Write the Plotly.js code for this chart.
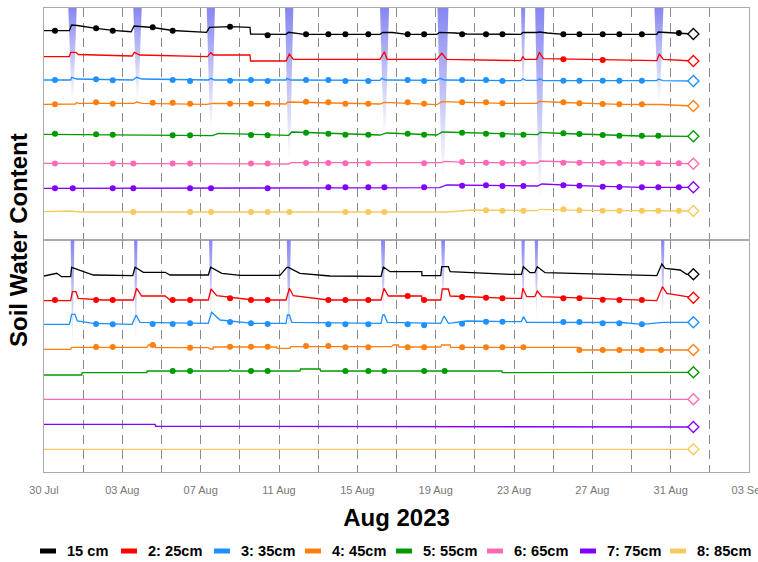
<!DOCTYPE html>
<html>
<head>
<meta charset="utf-8">
<script src="https://cdn.plot.ly/plotly-3.0.1.min.js"></script>
<style>html,body{margin:0;padding:0;background:#fff}#chart{width:758px;height:562px}</style>
</head>
<body>
<div id="chart"></div>
<script>
// ---- time base: values in days since 30 Jul 2023 00:00 ----
const START = Date.UTC(2023, 6, 30);
const DAY_MS = 86400000;
function toDate(d) { return new Date(START + Math.round(d * DAY_MS)).toISOString().slice(0, 19).replace('T', ' '); }

const seriesNames = ['15 cm', '2: 25cm', '3: 35cm', '4: 45cm', '5: 55cm', '6: 65cm', '7: 75cm', '8: 85cm'];
const seriesColors = ['#000000', '#ff0000', '#1e90ff', '#ff7f0e', '#009900', '#ff69b4', '#8000ff', '#f7c95e'];

const tickDays = [0, 4, 8, 12, 16, 20, 24, 28, 32, 36];
const tickLabels = ['30 Jul', '03 Aug', '07 Aug', '11 Aug', '15 Aug', '19 Aug', '23 Aug', '27 Aug', '31 Aug', '03 Sep'];
const gridDays = [2, 4, 6, 8, 10, 12, 14, 16, 18, 20, 22, 24, 26, 28, 30, 32, 34];

// ---- rain events (days, reach of the bar in panel units) ----
const rainTopStart = [1.24, 4.56, 8.31, 12.31, 17.16, 20.09, 24.36, 25.08, 31.17];
const rainTopEnd   = [1.67, 4.99, 8.73, 12.73, 17.62, 20.65, 24.57, 25.55, 31.63];
const rainTopDepth = [92, 92, 122, 152, 127, 169, 92, 192, 95];
const rainBotStart = [1.36, 4.60, 8.43, 12.40, 17.21, 20.28, 24.38, 25.06, 31.51];
const rainBotEnd   = [1.55, 4.77, 8.60, 12.60, 17.42, 20.48, 24.55, 25.23, 31.68];
const rainBotDepth = [105, 102, 78, 102, 75, 62, 78, 78, 78];

// ---- upper panel: lines ----
const a1T = [0,1.29,1.41,1.70,2.66,3.51,4.45,4.60,5.55,6.57,8.30,8.45,9.50,10.52,10.55,12.36,12.48,12.90,13.30,17.16,17.30,17.80,18.52,20.06,20.20,21.00,21.60,24.35,24.45,25.16,25.30,25.70,26.52,31.29,31.37,32.20,33.16];
const a1V = [209.3,209.3,215,214.5,211.7,209.7,208.3,214,212.5,209.5,207.7,212.7,213.3,212.7,206,205.7,207.7,207,205.7,205.7,207.7,207.5,205.7,205.7,207.7,207,206,205.7,207.7,207.5,208,207,205.7,205.7,208,207,206];
const a2T = [0,1.29,1.36,1.63,1.75,4.50,4.61,4.90,8.35,8.51,8.65,10.52,10.55,12.36,12.53,12.73,17.16,17.38,17.52,20.06,20.31,20.57,24.35,24.45,24.55,25.16,25.30,25.50,31.29,31.42,31.63,33.16];
const a2V = [183.3,183.3,187.7,187.7,185.5,184,187.7,185,183.3,187.3,185,185,179,179,186,180.7,180.7,188.3,180.7,180.7,186.7,180.7,179.3,183.3,180.7,180.7,187.7,181.3,179.3,186,180.7,179];
const a3T = [0,1.36,1.41,1.67,4.53,4.73,4.99,8.39,8.51,8.70,12.36,12.40,12.60,17.16,17.25,17.45,20.06,20.22,20.45,24.35,24.45,24.60,25.20,25.30,25.50,31.29,31.37,31.60,33.16];
const a3V = [160,160,162.7,161,160,162.7,161,160,161.7,160,160,161.7,160,159.7,161.7,160,159.7,161.7,160,159.3,161.3,159.7,159.7,161.3,159.3,159.3,161,159.3,159];
const a4T = [0,1.60,1.67,1.80,4.60,4.73,5.00,8.30,8.63,12.36,12.45,13.50,17.16,17.38,18.50,20.06,20.31,21.50,23.40,25.16,25.30,26.50,29.40,31.50,32.80,33.16];
const a4V = [135.7,136,137.3,136.7,136.7,138,136.7,135.7,136.7,136,138,137.5,136,137.7,136.5,135.3,138.3,137.7,136.7,136.7,138.7,137.5,135.7,135.5,134,134];
const a5T = [0,6.50,8.60,8.90,12.50,12.65,17.16,17.50,20.06,20.34,24.30,25.20,25.33,26.50,30.44,33.16];
const a5V = [105.7,105,104.3,106.7,104.7,108,105,107,105,108,105.3,105.3,107.7,106.5,104,103.7];
const a6T = [0,12.50,12.60,20.30,20.46,21.50,25.20,25.33,27.50,33.16];
const a6V = [76.7,76,77.3,77.3,78.7,77.7,77,79,77.5,76.3];
const a7T = [0,12.50,20.20,20.57,25.20,25.42,27.30,30.50,33.16];
const a7V = [51.7,52,52.3,55,54,56,54.3,52.7,52.7];
const a8T = [0,1.40,1.80,20.60,21.90,25.20,25.33,27.30,33.16];
const a8V = [28.3,29,28,28,30,29.3,30.7,29.7,29];

// ---- upper panel: readings (dots) ----
const a1DT = [0.56,2.66,3.51,5.55,6.57,9.50,11.42,13.38,14.52,15.39,16.56,18.57,19.41,21.35,22.57,23.41,26.52,27.34,28.53,29.38,30.53,32.42];
const a1DV = [209.3,211.7,209.3,212.7,209.3,213.3,204.7,205.7,205.7,205.7,205.7,205.7,205.7,205.7,205.7,205.7,205.7,205.7,205.7,205.7,205.7,207];
const a2DT = [26.52,28.53];
const a2DV = [180.7,180];
const a3DT = [0.56,2.66,3.51,6.57,7.46,9.50,10.57,11.42,13.38,14.52,15.39,16.56,18.57,19.41,21.35,22.57,23.41,26.52,27.34,28.53,29.38,30.53];
const a3DV = [160,160.7,159.7,160,159,159.3,160,159,160,160,159,159,160,159,160,160,159,159.3,159.3,159.3,159.3,159.3];
const a4DT = [0.56,2.66,3.51,5.55,6.57,7.46,9.50,10.57,11.42,13.38,14.52,15.39,16.56,18.57,19.41,21.35,22.57,23.41,26.52,27.34,28.53,29.38,30.53];
const a4DV = [135.7,137.7,136.3,137.3,137.3,136.3,136.3,136.3,136.3,138.3,137.7,136.3,136.3,137.7,136.3,137.7,137.7,136.7,137.7,136.7,136,135.7,135.7];
const a5DT = [0.56,2.66,3.51,6.57,7.46,10.57,11.42,13.38,14.52,15.39,16.56,18.57,19.41,21.35,22.57,23.41,24.48,26.52,27.34,28.53,29.38,30.53,31.37];
const a5DV = [106.3,105.7,105.3,104.7,104.7,105,104.7,107.3,106.3,105.3,105.3,106.3,105.3,107.3,106.3,105.3,105.3,106.7,106,105,104.3,104.3,104.3];
const a6DT = [0.56,3.51,4.56,6.57,7.46,10.57,11.42,13.38,14.52,15.39,16.56,19.41,21.35,22.57,23.41,24.48,26.52,27.34,28.53,29.38,30.53,31.37,32.42];
const a6DV = [76.5,76.5,76.5,76.5,76.5,76.5,76.5,77,77,76.7,76.7,76.7,78,77.3,77,77,77.3,77.3,77.3,77,77,76.7,76.7];
const a7DT = [0.56,1.47,3.51,4.56,7.46,8.53,11.42,14.52,15.39,16.56,17.38,19.41,21.35,22.57,23.41,24.48,26.52,27.34,28.53,29.38,30.53,31.37,32.42];
const a7DV = [51.7,51.7,51.7,51.7,51.7,51.7,51.7,52.7,52.7,52.7,52.7,52.7,54.3,54.7,54,54,54.7,54.3,53.3,53,52.7,52.7,52.7];
const a8DT = [4.56,7.46,8.53,10.57,11.42,12.53,15.39,16.56,17.38,22.57,23.41,24.48,26.52,27.34,28.53,29.38,30.53,31.37,32.42];
const a8DV = [28,28,28,28,28,28,28,28,28,29.7,29.3,29.3,30.7,29.7,29.3,29.3,29.3,29.3,29.3];

// ---- lower panel: lines ----
const b1T = [0,0.65,0.90,1.36,1.41,1.60,2.52,4.53,4.65,4.72,5.07,6.18,6.44,8.39,8.51,9.08,10.01,12.05,12.40,12.48,13.07,14.61,17.21,17.33,17.67,19.29,19.30,20.26,20.31,20.65,20.74,23.80,24.38,24.48,24.82,25.06,25.19,25.59,31.29,31.55,31.72,32.48,32.82,33.16];
const b1V = [196,198.7,195.3,195.3,204.7,203.5,197,196.3,204.7,204,199.7,199.7,197,197,204.7,198.7,196.7,196.7,204.7,204.7,198.7,196,195.7,205,200.3,200.3,196.3,196.3,205.3,205.3,200.3,197.7,197.7,205.3,199.3,199.3,205.3,199.3,196.3,208,203.7,202,197.7,197.7];
const b2T = [0,1.36,1.45,1.63,1.75,3.00,4.56,4.73,4.99,6.18,6.44,8.39,8.53,8.82,10.69,12.36,12.53,12.73,14.52,17.21,17.36,17.58,19.29,19.30,20.26,20.34,20.65,20.74,23.80,24.38,24.45,24.65,25.06,25.19,25.42,31.29,31.58,31.80,32.82,33.16];
const b2V = [171.3,171.3,180.3,180.3,173.7,172,172,183.7,176,176,172,172,183,176.3,172,172,183.7,176.3,172,172,183.7,176,176,172,172,183,183,176,173.7,173.7,183.7,175.3,175.3,181,175.3,171.3,185.3,178.7,175.3,174.3];
const b3T = [0,1.29,1.33,1.41,1.58,1.70,2.52,4.50,4.70,4.90,8.39,8.56,8.99,10.69,12.36,12.43,12.53,12.65,17.21,17.30,17.38,17.53,20.26,20.43,20.65,21.59,24.38,24.48,24.65,29.50,30.53,31.63,33.16];
const b3V = [147.7,147.7,149.7,157.7,157.7,151,148.7,147.7,157,149.7,148.7,159.7,152,148.7,148.7,157,157,149.7,148.7,157,157,149.7,148.7,156,148.7,151,150.3,155.3,149.7,149.5,147.7,149.7,149.7];
const b4T = [0,1.36,1.41,5.25,5.33,5.67,5.70,8.39,8.48,8.63,8.65,11.88,11.90,12.56,12.60,17.75,17.84,18.09,18.12,20.26,20.31,20.74,20.76,27.34,27.36,33.16];
const b4V = [122.7,122.7,124.7,124.7,127,127,124.3,124.3,123,123,125,125,123.7,123.7,125.3,125.3,127,127,125,125,127,127,124.7,124.7,122,122];
const b5T = [0,1.93,1.95,5.25,5.27,9.45,9.50,9.60,13.07,13.10,14.10,14.12,23.38,23.40,33.16];
const b5V = [97,97,99.3,99.3,101,101,102.3,101,101,103,103,101,101,99.3,99.7];
const b6T = [0,33.16];
const b6V = [72.7,72.7];
const b7T = [0,5.67,5.70,33.16];
const b7V = [47.7,47.7,45.7,45];
const b8T = [0,33.16];
const b8V = [22.7,22.7];

// ---- lower panel: readings (dots) ----
const b1DT = [], b1DV = [];
const b2DT = [0.56,2.66,3.51,6.57,7.46,9.50,10.57,11.42,14.52,15.39,16.56,18.57,19.41,21.35,22.57,23.41,26.52,27.34,28.53,29.38,30.53];
const b2DV = [172,172,172,172,172,173.7,172,172,172,172,172,176,172,175,174.3,173.7,173.7,173.7,172.3,172,172];
const b3DT = [2.66,3.51,5.55,6.57,7.46,9.50,10.57,11.42,14.52,15.39,16.56,18.57,19.41,21.35,22.57,23.41,26.52,27.34,28.53,29.38,30.53];
const b3DV = [148,147.7,148,148,148.7,150,148.7,148,147.7,147.7,147.7,147.7,146.7,148.3,150.3,150.3,150,150,148.7,148.7,147.7];
const b4DT = [2.66,3.51,5.55,7.46,9.50,10.57,11.42,13.38,14.52,15.39,16.56,18.57,19.41,21.35,22.57,23.41,24.48,27.34,28.53,29.38,30.53,31.51];
const b4DV = [125,125,127,124.3,125.3,125.3,125.3,126,126,124.7,124.7,124.7,124.7,124.7,124.7,124.7,124.7,122,122,122,122,122];
const b5DT = [6.57,7.46,10.57,11.42,15.39,16.56,17.38,19.41,20.46];
const b5DV = [101,101,101,101,101,101,101,101,101];
const b6DT = [], b6DV = [];
const b7DT = [], b7DV = [];
const b8DT = [], b8DV = [];

// ---- build ----
const FONT = 'Liberation Sans, Arial, Helvetica, sans-serif';
const PANEL_TOP = 232;
const traces = [];

function addRain(starts, ends, depths, yaxis) {
  for (let i = 0; i < starts.length; i++) {
    const w = ends[i] - starts[i];
    const mid = (starts[i] + ends[i]) / 2;
    const bottom = PANEL_TOP - depths[i];
    traces.push({
      type: 'scatter', mode: 'lines', xaxis: 'x', yaxis: yaxis,
      x: [starts[i], ends[i], mid + w * 0.1, mid - w * 0.1, starts[i]].map(toDate),
      y: [PANEL_TOP, PANEL_TOP, bottom, bottom, PANEL_TOP],
      fill: 'toself', line: { width: 0, color: 'rgba(0,0,0,0)' },
      fillcolor: 'rgba(128,128,240,0.5)',
      fillgradient: { type: 'vertical', start: bottom, stop: PANEL_TOP,
        colorscale: [[0, 'rgba(132,132,240,0)'], [0.5, 'rgba(132,132,240,0.5)'], [1, 'rgba(128,128,240,0.95)']] },
      hoverinfo: 'skip', showlegend: false
    });
  }
}
addRain(rainTopStart, rainTopEnd, rainTopDepth, 'y');
addRain(rainBotStart, rainBotEnd, rainBotDepth, 'y2');

const topLines = [[a1T,a1V],[a2T,a2V],[a3T,a3V],[a4T,a4V],[a5T,a5V],[a6T,a6V],[a7T,a7V],[a8T,a8V]];
const topDots = [[a1DT,a1DV],[a2DT,a2DV],[a3DT,a3DV],[a4DT,a4DV],[a5DT,a5DV],[a6DT,a6DV],[a7DT,a7DV],[a8DT,a8DV]];
const botLines = [[b1T,b1V],[b2T,b2V],[b3T,b3V],[b4T,b4V],[b5T,b5V],[b6T,b6V],[b7T,b7V],[b8T,b8V]];
const botDots = [[b1DT,b1DV],[b2DT,b2DV],[b3DT,b3DV],[b4DT,b4DV],[b5DT,b5DV],[b6DT,b6DV],[b7DT,b7DV],[b8DT,b8DV]];

function addPanel(lines, dots, yaxis) {
  lines.forEach((s, i) => {
    traces.push({ type: 'scatter', mode: 'lines', xaxis: 'x', yaxis: yaxis, name: seriesNames[i],
      x: s[0].map(toDate), y: s[1], line: { color: seriesColors[i], width: 1.3 }, showlegend: false });
  });
  dots.forEach((s, i) => {
    if (!s[0].length) return;
    traces.push({ type: 'scatter', mode: 'markers', xaxis: 'x', yaxis: yaxis, name: seriesNames[i],
      x: s[0].map(toDate), y: s[1], marker: { color: seriesColors[i], size: 6 }, showlegend: false });
  });
  lines.forEach((s, i) => {
    const n = s[0].length - 1;
    traces.push({ type: 'scatter', mode: 'markers', xaxis: 'x', yaxis: yaxis, name: seriesNames[i],
      x: [toDate(s[0][n])], y: [s[1][n]],
      marker: { symbol: 'diamond', size: 8.5, color: '#ffffff', line: { color: seriesColors[i], width: 1.3 } },
      showlegend: false });
  });
}
addPanel(topLines, topDots, 'y');
addPanel(botLines, botDots, 'y2');

// custom legend row (layout positions in px of the 758-wide page)
const legendSymbolPx = [39, 120, 213, 304, 395, 486, 579, 669];
const PLOT_L = 44, PLOT_W = 705, PLOT_B = 472, PLOT_H = 464;
const px2paper = px => (px - PLOT_L) / PLOT_W;
const legendY = (PLOT_B - 551) / PLOT_H;
const shapes = [], annotations = [];
seriesNames.forEach((nm, i) => {
  shapes.push({ type: 'line', xref: 'paper', yref: 'paper',
    x0: px2paper(legendSymbolPx[i] + 1), x1: px2paper(legendSymbolPx[i] + 17), y0: legendY, y1: legendY,
    line: { color: seriesColors[i], width: 5 } });
  annotations.push({ xref: 'paper', yref: 'paper', x: px2paper(legendSymbolPx[i] + 26), y: legendY,
    xanchor: 'left', yanchor: 'middle', showarrow: false, text: '<b>' + nm + '</b>',
    font: { family: FONT, size: 14.6, color: '#000' } });
});
annotations.push({ xref: 'paper', yref: 'paper', x: px2paper(18), y: 0.5, xanchor: 'center', yanchor: 'middle',
  textangle: -90, showarrow: false, text: '<b>Soil Water Content</b>', font: { family: FONT, size: 24, color: '#000' } });

const gridStyle = { showgrid: true, gridcolor: '#8a8a8a', gridwidth: 1, griddash: '9px,6px' };
const layout = {
  width: 758, height: 562,
  margin: { l: PLOT_L, r: 9, t: 8, b: 90 },
  paper_bgcolor: '#ffffff', plot_bgcolor: '#ffffff',
  showlegend: false,
  font: { family: FONT },
  xaxis: {
    type: 'date', range: [toDate(0), toDate(36)], anchor: 'y2',
    tickmode: 'array', tickvals: tickDays.map(toDate), ticktext: tickLabels,
    tickfont: { family: FONT, size: 11, color: '#777777' }, ticks: '', ticklabelstandoff: 8,
    ticklabeloverflow: 'allow',
    showgrid: false,
    minor: Object.assign({ tickmode: 'array', tickvals: gridDays.map(toDate), ticks: '' }, gridStyle),
    showline: true, linecolor: '#aaaaaa', linewidth: 1, mirror: 'all', zeroline: false, fixedrange: true,
    title: { text: '<b>Aug 2023</b>', font: { family: FONT, size: 24, color: '#000' }, standoff: 13 }
  },
  yaxis: { domain: [0.5, 1], range: [0, PANEL_TOP], showticklabels: false, showgrid: false, zeroline: false,
    ticks: '', showline: true, linecolor: '#aaaaaa', linewidth: 1, mirror: true, fixedrange: true },
  yaxis2: { domain: [0, 0.5], range: [0, PANEL_TOP], showticklabels: false, showgrid: false, zeroline: false,
    ticks: '', showline: true, linecolor: '#aaaaaa', linewidth: 1, mirror: true, fixedrange: true },
  shapes: shapes,
  annotations: annotations
};

Plotly.newPlot('chart', traces, layout, { displayModeBar: false, staticPlot: true });
</script>
</body>
</html>
